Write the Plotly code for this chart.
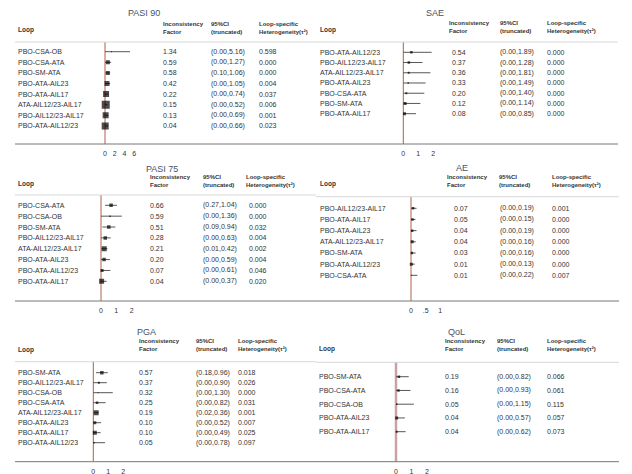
import plotly.graph_objects as go

# ---- data ----
pasi90_loops = ["PBO-CSA-OB", "PBO-CSA-ATA", "PBO-SM-ATA", "PBO-ATA-AIL23", "PBO-ATA-AIL17",
                "ATA-AIL12/23-AIL17", "PBO-AIL12/23-AIL17", "PBO-ATA-AIL12/23"]
pasi90_if = [1.34, 0.59, 0.58, 0.42, 0.22, 0.15, 0.13, 0.04]
pasi90_lo = [0.00, 0.00, 0.10, 0.00, 0.00, 0.00, 0.00, 0.00]
pasi90_hi = [5.16, 1.27, 1.06, 1.05, 0.74, 0.52, 0.69, 0.66]
pasi90_het = [0.598, 0.000, 0.000, 0.004, 0.037, 0.006, 0.001, 0.023]
pasi90_wt = [1, 4, 4, 5, 6, 8, 6, 7]

sae_loops = ["PBO-ATA-AIL12/23", "PBO-AIL12/23-AIL17", "ATA-AIL12/23-AIL17", "PBO-ATA-AIL23",
             "PBO-CSA-ATA", "PBO-SM-ATA", "PBO-ATA-AIL17"]
sae_if = [0.54, 0.37, 0.36, 0.33, 0.20, 0.12, 0.08]
sae_lo = [0.00, 0.00, 0.00, 0.00, 0.00, 0.00, 0.00]
sae_hi = [1.89, 1.28, 1.81, 1.49, 1.40, 1.14, 0.85]
sae_het = [0.000, 0.000, 0.000, 0.000, 0.000, 0.000, 0.000]
sae_wt = [2.5, 2.5, 2, 1.5, 2, 3, 3]

pasi75_loops = ["PBO-CSA-ATA", "PBO-CSA-OB", "PBO-SM-ATA", "PBO-AIL12/23-AIL17", "ATA-AIL12/23-AIL17",
                "PBO-ATA-AIL23", "PBO-ATA-AIL12/23", "PBO-ATA-AIL17"]
pasi75_if = [0.66, 0.59, 0.51, 0.28, 0.21, 0.20, 0.07, 0.04]
pasi75_lo = [0.27, 0.00, 0.09, 0.00, 0.01, 0.00, 0.00, 0.00]
pasi75_hi = [1.04, 1.36, 0.94, 0.63, 0.42, 0.59, 0.61, 0.37]
pasi75_het = [0.000, 0.000, 0.032, 0.004, 0.002, 0.004, 0.046, 0.020]
pasi75_wt = [3.5, 1.5, 3.5, 3.5, 5, 3.5, 3, 5]

ae_loops = ["PBO-AIL12/23-AIL17", "PBO-ATA-AIL17", "PBO-ATA-AIL23", "ATA-AIL12/23-AIL17",
            "PBO-SM-ATA", "PBO-ATA-AIL12/23", "PBO-CSA-ATA"]
ae_if = [0.07, 0.05, 0.04, 0.04, 0.03, 0.01, 0.01]
ae_lo = [0.00, 0.00, 0.00, 0.00, 0.00, 0.00, 0.00]
ae_hi = [0.19, 0.15, 0.19, 0.16, 0.16, 0.13, 0.22]
ae_het = [0.001, 0.000, 0.000, 0.000, 0.000, 0.000, 0.007]
ae_wt = [2.5, 2.5, 2.5, 3, 2.5, 3, 1]

pga_loops = ["PBO-SM-ATA", "PBO-AIL12/23-AIL17", "PBO-CSA-OB", "PBO-CSA-ATA", "ATA-AIL12/23-AIL17",
             "PBO-ATA-AIL23", "PBO-ATA-AIL17", "PBO-ATA-AIL12/23"]
pga_if = [0.57, 0.37, 0.32, 0.25, 0.19, 0.10, 0.10, 0.05]
pga_lo = [0.18, 0.00, 0.00, 0.00, 0.02, 0.00, 0.00, 0.00]
pga_hi = [0.96, 0.90, 1.30, 0.82, 0.36, 0.52, 0.49, 0.78]
pga_het = [0.018, 0.026, 0.000, 0.031, 0.001, 0.007, 0.025, 0.097]
pga_wt = [3.5, 2, 1, 2.5, 5, 3, 4, 1.5]

qol_loops = ["PBO-SM-ATA", "PBO-CSA-ATA", "PBO-CSA-OB", "PBO-ATA-AIL23", "PBO-ATA-AIL17"]
qol_if = [0.19, 0.16, 0.05, 0.04, 0.04]
qol_lo = [0.00, 0.00, 0.00, 0.00, 0.00]
qol_hi = [0.82, 0.93, 1.15, 0.57, 0.62]
qol_het = [0.066, 0.061, 0.115, 0.057, 0.073]
qol_wt = [2.5, 2.5, 1.5, 3, 2]

# ---- panel geometry (pixels of the 632x474 picture) ----
# the page body has an 8px margin, so the figure is a bit smaller and shifted
OX, OY = 8, 8
FW, FH = 624, 466
FONT = "Liberation Sans, Arial, sans-serif"


def px(x):
    return (x - OX) / FW


def py(y):
    return 1 - (y - OY) / FH


panels = [
    dict(title="PASI 90", loops=pasi90_loops, ifac=pasi90_if, lo=pasi90_lo, hi=pasi90_hi, het=pasi90_het,
         wt=pasi90_wt, left=15, right=316, tx=144, ty=12.5, lx=17, ly=30, hy=27.5,
         hcols=[162, 210, 258], vcols=[162, 210, 258], hline=42, bline=144, r0=51.7, dr=10.6,
         zero=105, ppu=4.85, ticks=[0, 2, 4, 6], ticktext=["0", "2", "4", "6"], zcol="#b0604a", zw=1),
    dict(title="SAE", loops=sae_loops, ifac=sae_if, lo=sae_lo, hi=sae_hi, het=sae_het,
         wt=sae_wt, left=316, right=618, tx=435, ty=12.5, lx=319, ly=30, hy=27,
         hcols=[448, 499, 546], vcols=[451, 499, 546], hline=42, bline=144, r0=52.3, dr=10.23,
         zero=403.3, ppu=15, ticks=[0, 1, 2], ticktext=["0", "1", "2"], zcol="#b0604a", zw=1),
    dict(title="PASI 75", loops=pasi75_loops, ifac=pasi75_if, lo=pasi75_lo, hi=pasi75_hi, het=pasi75_het,
         wt=pasi75_wt, left=15, right=316, tx=162, ty=168.5, lx=17, ly=184, hy=181,
         hcols=[149, 202, 245], vcols=[149, 202, 248], hline=195, bline=301, r0=205.3, dr=10.86,
         zero=101, ppu=15.3, ticks=[0, 1, 2], ticktext=["0", "1", "2"], zcol="#b0604a", zw=1),
    dict(title="AE", loops=ae_loops, ifac=ae_if, lo=ae_lo, hi=ae_hi, het=ae_het,
         wt=ae_wt, left=316, right=619, tx=462, ty=167.5, lx=319, ly=184, hy=180.5,
         hcols=[446, 498, 551], vcols=[452.7, 498.7, 551], hline=196.7, bline=301, r0=208.3, dr=11.17,
         zero=411, ppu=29.3, ticks=[0, 0.5, 1], ticktext=["0", ".5", "1"], zcol="#b0604a", zw=1),
    dict(title="PGA", loops=pga_loops, ifac=pga_if, lo=pga_lo, hi=pga_hi, het=pga_het,
         wt=pga_wt, left=15, right=316, tx=146, ty=332, lx=17, ly=350, hy=345,
         hcols=[137.7, 195, 237], vcols=[137.7, 195, 237], hline=361.7, bline=461.7, r0=372.7, dr=10,
         zero=93.3, ppu=15, ticks=[0, 1, 2], ticktext=["0", "1", "2"], zcol="#b0604a", zw=1),
    dict(title="QoL", loops=qol_loops, ifac=qol_if, lo=qol_lo, hi=qol_hi, het=qol_het,
         wt=qol_wt, left=316, right=619, tx=456, ty=332, lx=318, ly=349.3, hy=345,
         hcols=[444, 496, 546], vcols=[444, 496, 546], hline=362.3, bline=461.7, r0=376.7, dr=13.75,
         zero=396, ppu=15.5, ticks=[0, 1, 2], ticktext=["0", "1", "2"], zcol="#c9a3a3", zw=2.5),
]

heads = ["Inconsistency<br>Factor", "95%CI<br>(truncated)", "Loop-specific<br>Heterogeneity(τ²)"]

fig = go.Figure()
annotations = []
shapes = []
layout_axes = {}


def note(text, x, y, yref="paper", size=7, color="#333", xanchor="left"):
    annotations.append(dict(text=text, x=x, y=y, xref="paper", yref=yref, xanchor=xanchor,
                            yanchor="middle", align="left", showarrow=False, borderpad=0,
                            font=dict(size=size, color=color, family=FONT)))


for n, p in enumerate(panels, start=1):
    suffix = "" if n == 1 else str(n)
    xa, ya = "x" + suffix, "y" + suffix
    rows = list(range(len(p["loops"])))
    err_plus = [h - v for h, v in zip(p["hi"], p["ifac"])]
    err_minus = [v - l for v, l in zip(p["ifac"], p["lo"])]

    fig.add_trace(go.Scatter(
        x=p["ifac"], y=rows, xaxis=xa, yaxis=ya, mode="markers",
        marker=dict(symbol="square", size=p["wt"], color="black", line=dict(width=0)),
        error_x=dict(type="data", symmetric=False, array=err_plus, arrayminus=err_minus,
                     width=0, thickness=0.9, color="#444"),
        showlegend=False, hoverinfo="skip",
    ))

    xmax = p["ticks"][-1] + 0.8 * (p["ticks"][1] - p["ticks"][0])
    pad = 4
    layout_axes["xaxis" + suffix] = dict(
        domain=[px(p["zero"] - pad), px(p["zero"] + xmax * p["ppu"])],
        range=[-pad / p["ppu"], xmax], anchor=ya,
        tickvals=p["ticks"], ticktext=p["ticktext"], showgrid=False, zeroline=False,
        showline=False, ticks="outside", ticklen=3, tickcolor="rgba(0,0,0,0)",
        tickfont=dict(size=7, color="#333", family=FONT),
    )
    layout_axes["yaxis" + suffix] = dict(
        domain=[py(p["bline"]), py(p["hline"])],
        range=[(p["bline"] - p["r0"]) / p["dr"], (p["hline"] - p["r0"]) / p["dr"]],
        anchor=xa, visible=False, showgrid=False, zeroline=False,
    )

    # header rule, bottom rule and the no-inconsistency line at zero
    shapes.append(dict(type="line", xref="paper", yref="paper", x0=px(p["left"]), x1=px(p["right"]),
                       y0=py(p["hline"]), y1=py(p["hline"]), line=dict(color="#d8d8d8", width=1)))
    shapes.append(dict(type="line", xref="paper", yref="paper", x0=px(p["left"]), x1=px(p["right"]),
                       y0=py(p["bline"]), y1=py(p["bline"]), line=dict(color="#777", width=1)))
    shapes.append(dict(type="line", xref=xa, yref=ya + " domain", x0=0, x1=0, y0=0, y1=1,
                       line=dict(color=p["zcol"], width=p["zw"]), layer="below"))

    # title and header
    note(p["title"], px(p["tx"]), py(p["ty"]), size=9, color="#44546a", xanchor="center")
    note("<b>Loop</b>", px(p["lx"]), py(p["ly"]), size=6.5)
    for hx, ht in zip(p["hcols"], heads):
        note("<b>%s</b>" % ht, px(hx), py(p["hy"]), size=6)

    # rows
    for i in rows:
        cells = [p["loops"][i], "%.2f" % p["ifac"][i],
                 "(%.2f,%.2f)" % (p["lo"][i], p["hi"][i]), "%.3f" % p["het"][i]]
        xs = [p["lx"]] + p["vcols"]
        for cx, ct in zip(xs, cells):
            note(ct, px(cx), i, yref=ya, size=7)

fig.update_layout(
    width=FW, height=FH, margin=dict(l=0, r=0, t=0, b=0),
    paper_bgcolor="white", plot_bgcolor="rgba(0,0,0,0)",
    showlegend=False, annotations=annotations, shapes=shapes,
    **layout_axes,
)

fig.write_html("out.html")
